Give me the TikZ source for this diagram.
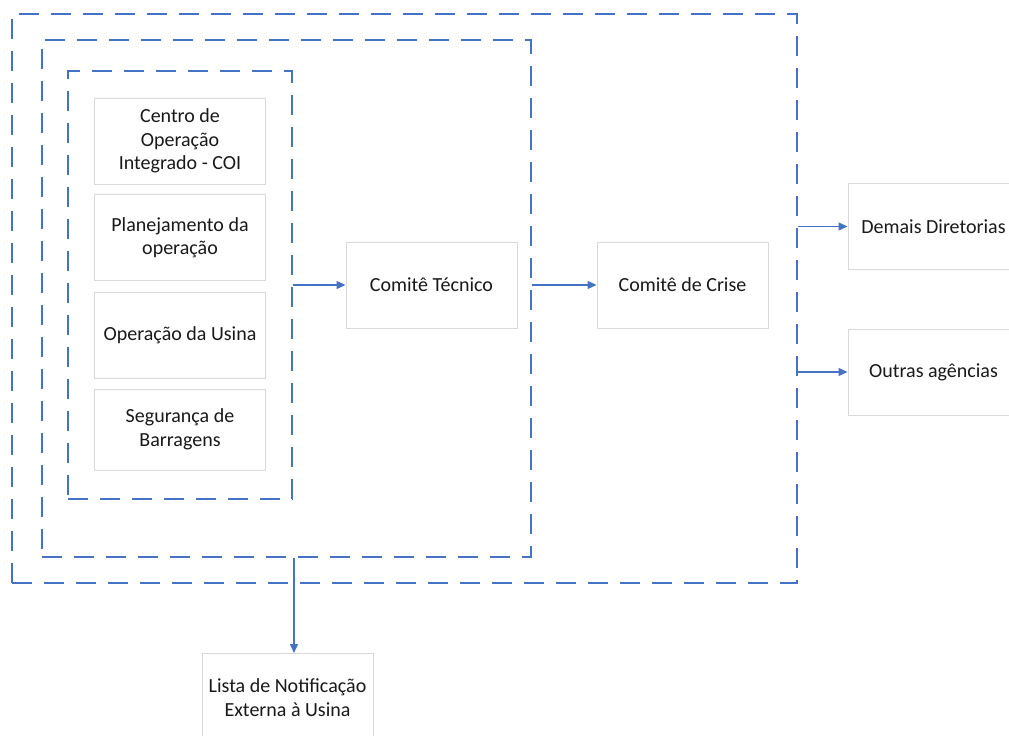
\documentclass[tikz,border=0pt]{standalone}
\usepackage{fontspec}
\setmainfont{Carlito}
\usepackage{tikz}
\usetikzlibrary{arrows.meta}
\definecolor{grpblue}{RGB}{68, 114, 196}
\definecolor{boxgray}{RGB}{217, 217, 217}
\tikzset{>={Triangle[length=9pt,width=8pt]}}
\tikzset{
	grp/.style={draw=grpblue, line width=1.4pt, dash pattern=on 20pt off 12pt, minimum width=#1},
	blk/.style={draw=boxgray, line width=1pt, fill=white, minimum width=171pt, minimum height=86pt, align=center, inner sep=2pt, text=black!90, font=\fontsize{20}{23.5}\selectfont},
	arr/.style={draw=grpblue, fill=grpblue, line width=1.3pt, ->}
}

\begin{document}
\begin{tikzpicture}[x=1pt,y=-1pt]
			\useasboundingbox (0,0) rectangle (1009,736);
			\clip (0,0) rectangle (1009,736);
			% dashed groups
			\node[grp=785pt, minimum height=569pt] (outer) at (404.5,298.5) {};
			\node[grp=489pt, minimum height=517pt] (mid) at (286.5,298.5) {};
			\node[grp=224pt, minimum height=428pt] (inner) at (180,285) {};
			% blocks
			\node[blk] (coi) at (180,141) {Centro de\\Operação\\Integrado - COI};
			\node[blk] (plan) at (180,237.5) {Planejamento da\\operação};
			\node[blk] (usina) at (180,335) {Operação da Usina};
			\node[blk, minimum height=81pt] (barr) at (180,429.5) {Segurança de\\Barragens};
			\node[blk] (tec) at (431.5,285) {Comitê Técnico};
			\node[blk] (crise) at (682.5,285) {Comitê de Crise};
			\node[blk] (dir) at (933.5,226.5) {Demais Diretorias};
			\node[blk] (ag) at (933.5,372) {Outras agências};
			\node[blk, minimum height=88pt] (lista) at (287.5,697.5) {Lista de Notificação\\Externa à Usina};
			% connectors
			\draw[arr] (inner.east |- tec.west) -- (tec.west);
			\draw[arr] (mid.east |- crise.west) -- (crise.west);
			\draw[arr] (outer.east |- dir.west) -- (dir.west);
			\draw[arr] (outer.east |- ag.west) -- (ag.west);
			\draw[arr] ([xshift=6.5pt]mid.south -| lista.north) -- ([xshift=6.5pt]lista.north);
		 \end{tikzpicture}
\end{document}
